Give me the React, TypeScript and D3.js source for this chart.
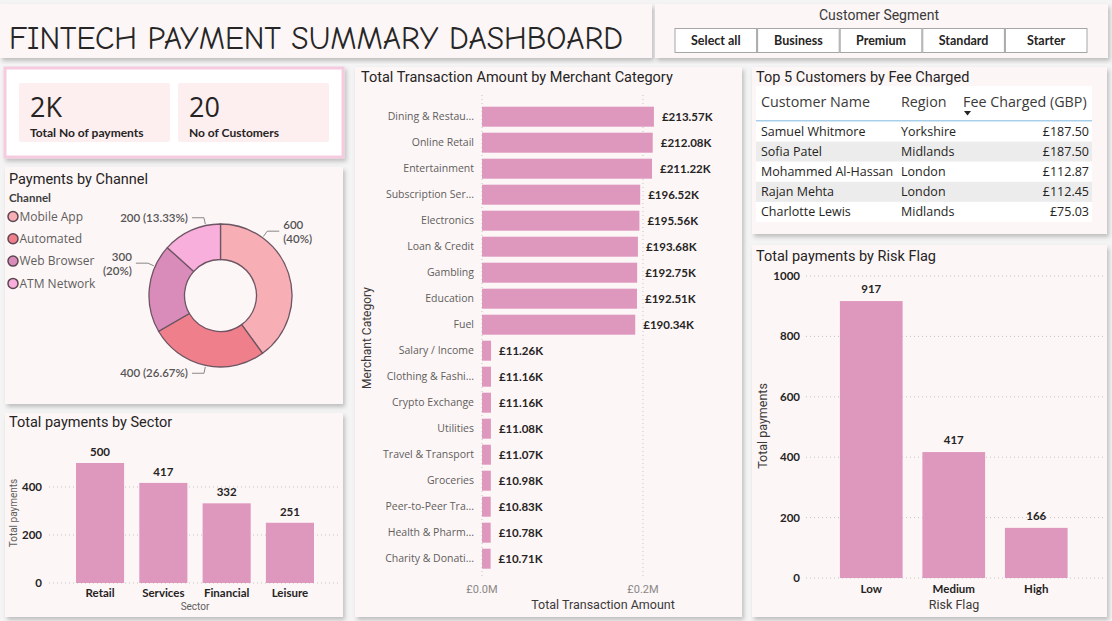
import React from 'react';
import * as d3 from 'd3';

const W = 1112;
const H = 621;

// ---- data ----
const segments = ['Select all', 'Business', 'Premium', 'Standard', 'Starter'];

const kpiValues = ['2K', '20'];
const kpiLabels = ['Total No of payments', 'No of Customers'];

const channels = ['Mobile App', 'Automated', 'Web Browser', 'ATM Network'];
const channelPayments = [600, 400, 300, 200];
const channelColors = ['#f7aeb4', '#ef7f8a', '#d98bba', '#f8afdc'];
// where along each slice the callout sits (fraction of the slice sweep)
const channelLabelFrac = [0.25, 0.5, 0.75, 0.75];

const sectors = ['Retail', 'Services', 'Financial', 'Leisure'];
const sectorPayments = [500, 417, 332, 251];
const sectorTicks = [0, 200, 400];

const merchantCategories = [
  'Dining & Restau...', 'Online Retail', 'Entertainment', 'Subscription Ser...', 'Electronics',
  'Loan & Credit', 'Gambling', 'Education', 'Fuel', 'Salary / Income', 'Clothing & Fashi...',
  'Crypto Exchange', 'Utilities', 'Travel & Transport', 'Groceries', 'Peer-to-Peer Tra...',
  'Health & Pharm...', 'Charity & Donati...',
];
const merchantAmounts = [
  213570, 212080, 211220, 196520, 195560, 193680, 192750, 192510, 190340,
  11260, 11160, 11160, 11080, 11070, 10980, 10830, 10780, 10710,
];
const merchantTicks = [0, 200000];

const tableColumns = ['Customer Name', 'Region', 'Fee Charged (GBP)'];
const customerNames = ['Samuel Whitmore', 'Sofia Patel', 'Mohammed Al-Hassan', 'Rajan Mehta', 'Charlotte Lewis'];
const customerRegions = ['Yorkshire', 'Midlands', 'London', 'London', 'Midlands'];
const customerFees = [187.5, 187.5, 112.87, 112.45, 75.03];

const riskFlags = ['Low', 'Medium', 'High'];
const riskPayments = [917, 417, 166];
const riskTicks = [0, 200, 400, 600, 800, 1000];

// ---- styling ----
const BAR = '#df98bd';
const PANEL = '#fdf6f7';
const INK = '#252423';
const GREY = '#605e5c';
const TITLE_FONT = "Roboto, 'DejaVu Sans', sans-serif";
const UI_FONT = "'Segoe UI', 'Open Sans', sans-serif";
const LABEL_FONT = "'Segoe UI', Lato, sans-serif";
const GRID = { stroke: '#c4c4c4', strokeWidth: 1, strokeDasharray: '1,3' };

const fmtK = (v: number) => `£${d3.format('.2f')(v / 1000)}K`;
const fmtM = (v: number) => `£${d3.format('.1f')(v / 1e6)}M`;
const fmtFee = (v: number) => `£${d3.format('.2f')(v)}`;

function Panel({ x, y, w, h, children }: any) {
  return (
    <g>
      <rect x={x} y={y} width={w} height={h} fill={PANEL} filter="url(#shadow)" />
      {children}
    </g>
  );
}

function PanelTitle({ x, y, text }: any) {
  return (
    <text x={x} y={y} dy="0.35em" fontFamily={TITLE_FONT} fontSize={14.5} fill={INK}>
      {text}
    </text>
  );
}

function Header() {
  const bx = d3.scaleBand().domain(segments).range([675, 1087]).paddingInner(0.012);
  return (
    <g>
      <Panel x={0} y={4} w={652} h={54} />
      <text x={9} y={49} fontFamily="'Comic Sans MS', 'Comic Neue', 'DejaVu Sans', sans-serif" fontSize={32}
        fill="#262626" textLength={614} lengthAdjust="spacingAndGlyphs">
        FINTECH PAYMENT SUMMARY DASHBOARD
      </text>
      <Panel x={655} y={4} w={453} h={54} />
      <text x={879} y={15} dy="0.35em" textAnchor="middle" fontFamily={TITLE_FONT} fontSize={14} fill="#3b3a39">
        Customer Segment
      </text>
      {segments.map(s => (
        <g key={s}>
          <rect x={bx(s)} y={28.5} width={bx.bandwidth()} height={24} fill="#fff" stroke="#a6a6a6" />
          <text x={(bx(s) as number) + bx.bandwidth() / 2} y={41} dy="0.35em" textAnchor="middle"
            fontFamily={LABEL_FONT} fontWeight={700} fontSize={12.5} fill={INK}>{s}</text>
        </g>
      ))}
    </g>
  );
}

function Kpis() {
  const cx = d3.scaleBand().domain(kpiLabels).range([19, 329]).paddingInner(0.05);
  return (
    <g>
      <rect x={5} y={68} width={338} height={89} fill="#fff" stroke="#f6cadf" strokeWidth={3} filter="url(#shadow)" />
      {kpiLabels.map((l, i) => {
        const x = cx(l) as number;
        return (
          <g key={l}>
            <rect x={x} y={83} width={cx.bandwidth()} height={59} fill="#fdeef0" rx={2} />
            <text x={x + 11} y={117} fontFamily={UI_FONT} fontSize={27} fill={INK}>{kpiValues[i]}</text>
            <text x={x + 11} y={137} fontFamily={LABEL_FONT} fontWeight={700} fontSize={12} fill={INK}>{l}</text>
          </g>
        );
      })}
    </g>
  );
}

function ChannelDonut() {
  const cx = 220.5, cy = 295.5, R = 71.5, r = 36;
  const pie = d3.pie<number>().sort(null).value(d => d)(channelPayments);
  const arc = d3.arc<d3.PieArcDatum<number>>().innerRadius(r).outerRadius(R);
  const total = d3.sum(channelPayments);
  const pct = d3.format('.2~f');
  const polar = (rad: number, a: number) => [cx + rad * Math.sin(a), cy - rad * Math.cos(a)];
  return (
    <g>
      <Panel x={5} y={167} w={338} h={237} />
      <PanelTitle x={9} y={179} text="Payments by Channel" />
      <text x={9} y={198} dy="0.35em" fontFamily={LABEL_FONT} fontWeight={700} fontSize={11.5} fill="#404040">Channel</text>
      {channels.map((c, i) => {
        const y = 216.5 + i * 22.3;
        return (
          <g key={c}>
            <circle cx={13} cy={y} r={5} fill={channelColors[i]} stroke="#5c4652" strokeWidth={1.5} />
            <text x={19.5} y={y} dy="0.35em" fontFamily={UI_FONT} fontSize={12} fill={GREY}>{c}</text>
          </g>
        );
      })}
      <g transform={`translate(${cx},${cy})`}>
        {pie.map((p, i) => (
          <path key={channels[i]} d={arc(p) as string} fill={channelColors[i]} stroke="#6e5563" strokeWidth={1.3} />
        ))}
      </g>
      {pie.map((p, i) => {
        const a = p.startAngle + (p.endAngle - p.startAngle) * channelLabelFrac[i];
        const side = Math.sin(a) >= 0 ? 1 : -1;
        const [x0, y0] = polar(R + 1.5, a);
        const [x1, y1] = polar(R + 8, a);
        const x2 = x1 + side * 12;
        const value = channelPayments[i];
        const share = `(${pct((value / total) * 100)}%)`;
        const wrap = Math.abs(Math.sin(a)) > 0.5;
        const tx = x2 + side * 4;
        const anchor = side > 0 ? 'start' : 'end';
        return (
          <g key={`lbl-${channels[i]}`}>
            <polyline points={`${x0},${y0} ${x1},${y1} ${x2},${y1}`} fill="none" stroke="#8a8886" strokeWidth={1} />
            {wrap ? (
              <text textAnchor={anchor} fontFamily={LABEL_FONT} fontWeight={600} fontSize={11.5} fill="#555">
                <tspan x={tx} y={y1 - 6.5} dy="0.35em">{value}</tspan>
                <tspan x={tx} y={y1 + 7.5} dy="0.35em">{share}</tspan>
              </text>
            ) : (
              <text x={tx} y={y1} dy="0.35em" textAnchor={anchor} fontFamily={LABEL_FONT} fontWeight={600}
                fontSize={11.5} fill="#555">{`${value} ${share}`}</text>
            )}
          </g>
        );
      })}
    </g>
  );
}

function SectorChart() {
  const x = d3.scaleBand().domain(sectors).range([68.4, 321.6]).paddingInner(0.24).paddingOuter(0.12);
  const y = d3.scaleLinear().domain([0, 500]).range([583, 463]);
  return (
    <g>
      <Panel x={5} y={413} w={338} h={204} />
      <PanelTitle x={9} y={422} text="Total payments by Sector" />
      {sectorTicks.map(t => (
        <g key={t}>
          <line x1={49} x2={341} y1={y(t)} y2={y(t)} {...GRID} />
          <text x={42} y={y(t)} dy="0.35em" textAnchor="end" fontFamily={LABEL_FONT} fontWeight={700}
            fontSize={11.5} fill={INK}>{t}</text>
        </g>
      ))}
      {sectors.map((s, i) => {
        const bx = x(s) as number;
        const v = sectorPayments[i];
        return (
          <g key={s}>
            <rect x={bx} y={y(v)} width={x.bandwidth()} height={y(0) - y(v)} fill={BAR} />
            <text x={bx + x.bandwidth() / 2} y={y(v) - 11} dy="0.35em" textAnchor="middle"
              fontFamily={LABEL_FONT} fontWeight={700} fontSize={11.5} fill={INK}>{v}</text>
            <text x={bx + x.bandwidth() / 2} y={593} dy="0.35em" textAnchor="middle"
              fontFamily={LABEL_FONT} fontWeight={700} fontSize={11.5} fill={INK}>{s}</text>
          </g>
        );
      })}
      <text x={(x.range()[0] + x.range()[1]) / 2} y={606.5} dy="0.35em" textAnchor="middle"
        fontFamily={TITLE_FONT} fontSize={10} fill={GREY}>Sector</text>
      <text transform={`translate(13,${y(250) - 10}) rotate(-90)`} dy="0.35em" textAnchor="middle"
        fontFamily={TITLE_FONT} fontSize={10} fill={GREY}>Total payments</text>
    </g>
  );
}

function MerchantChart() {
  const x = d3.scaleLinear().domain([0, 200000]).range([482, 643]);
  const y = d3.scaleBand().domain(merchantCategories).range([103.7, 571.7]).paddingInner(0.23).paddingOuter(0.115);
  return (
    <g>
      <Panel x={355} y={67} w={387} h={550} />
      <PanelTitle x={361} y={77} text="Total Transaction Amount by Merchant Category" />
      {merchantTicks.map(t => (
        <g key={t}>
          <line x1={x(t)} x2={x(t)} y1={95} y2={577} {...GRID} />
          <text x={x(t)} y={589.5} dy="0.35em" textAnchor="middle" fontFamily={TITLE_FONT} fontSize={11}
            fill="#8a8886">{fmtM(t)}</text>
        </g>
      ))}
      {merchantCategories.map((c, i) => {
        const by = y(c) as number;
        const v = merchantAmounts[i];
        const mid = by + y.bandwidth() / 2;
        return (
          <g key={c}>
            <rect x={x(0)} y={by} width={x(v) - x(0)} height={y.bandwidth()} fill={BAR} />
            <text x={474} y={mid} dy="0.35em" textAnchor="end" fontFamily={UI_FONT} fontSize={10.5}
              fill={GREY}>{c}</text>
            <text x={x(v) + 8} y={mid} dy="0.35em" fontFamily={LABEL_FONT} fontWeight={700} fontSize={11.5}
              fill={INK}>{fmtK(v)}</text>
          </g>
        );
      })}
      <text x={603} y={605} dy="0.35em" textAnchor="middle" fontFamily={TITLE_FONT} fontSize={12.5}
        fill="#3b3a39">Total Transaction Amount</text>
      <text transform="translate(367,338) rotate(-90)" dy="0.35em" textAnchor="middle" fontFamily={TITLE_FONT}
        fontSize={12} fill="#3b3a39">Merchant Category</text>
    </g>
  );
}

function CustomerTable() {
  const rowY = d3.scaleBand().domain(customerNames).range([121.5, 222]);
  const colX = [761, 901, 1089];
  return (
    <g>
      <Panel x={752} y={67} w={355} h={167} />
      <PanelTitle x={756} y={77} text="Top 5 Customers by Fee Charged" />
      <rect x={756} y={86} width={336} height={136} fill="#fff" />
      {tableColumns.map((c, i) => (
        <text key={c} x={i === 2 ? 963 : colX[i]} y={102} dy="0.35em" fontFamily={UI_FONT} fontSize={14.3}
          fill="#3b3a39">{c}</text>
      ))}
      <path d="M964,111 L971,111 L967.5,115.5 Z" fill="#252423" />
      <line x1={756} x2={1092} y1={121} y2={121} stroke="#a7cfe9" strokeWidth={2} />
      {customerNames.map((n, i) => {
        const ry = rowY(n) as number;
        const mid = ry + rowY.bandwidth() / 2;
        return (
          <g key={n}>
            <rect x={756} y={ry} width={336} height={rowY.bandwidth()} fill={i % 2 ? '#ececec' : '#fff'} />
            <text x={colX[0]} y={mid} dy="0.35em" fontFamily={UI_FONT} fontSize={12.5} fill={INK}>{n}</text>
            <text x={colX[1]} y={mid} dy="0.35em" fontFamily={UI_FONT} fontSize={12.5} fill={INK}>{customerRegions[i]}</text>
            <text x={colX[2]} y={mid} dy="0.35em" textAnchor="end" fontFamily={UI_FONT} fontSize={12.5}
              fill={INK}>{fmtFee(customerFees[i])}</text>
          </g>
        );
      })}
    </g>
  );
}

function RiskChart() {
  const x = d3.scaleBand().domain(riskFlags).range([830, 1077.5]).paddingInner(0.24).paddingOuter(0.12);
  const y = d3.scaleLinear().domain([0, 1000]).range([578, 276]);
  return (
    <g>
      <Panel x={752} y={245} w={355} h={372} />
      <PanelTitle x={756} y={256} text="Total payments by Risk Flag" />
      {riskTicks.map(t => (
        <g key={t}>
          <line x1={806} x2={1103} y1={y(t)} y2={y(t)} {...GRID} />
          <text x={800} y={y(t)} dy="0.35em" textAnchor="end" fontFamily={LABEL_FONT} fontWeight={700}
            fontSize={11.5} fill={INK}>{t}</text>
        </g>
      ))}
      {riskFlags.map((f, i) => {
        const bx = x(f) as number;
        const v = riskPayments[i];
        return (
          <g key={f}>
            <rect x={bx} y={y(v)} width={x.bandwidth()} height={y(0) - y(v)} fill={BAR} />
            <text x={bx + x.bandwidth() / 2} y={y(v) - 12} dy="0.35em" textAnchor="middle"
              fontFamily={LABEL_FONT} fontWeight={700} fontSize={11.5} fill={INK}>{v}</text>
            <text x={bx + x.bandwidth() / 2} y={588.5} dy="0.35em" textAnchor="middle"
              fontFamily={LABEL_FONT} fontWeight={700} fontSize={11.5} fill={INK}>{f}</text>
          </g>
        );
      })}
      <text x={954} y={604.5} dy="0.35em" textAnchor="middle" fontFamily={TITLE_FONT} fontSize={12.5}
        fill="#3b3a39">Risk Flag</text>
      <text transform={`translate(763,${y(500) - 1}) rotate(-90)`} dy="0.35em" textAnchor="middle"
        fontFamily={TITLE_FONT} fontSize={12.5} fill="#3b3a39">Total payments</text>
    </g>
  );
}

export default function App() {
  return (
    <svg width={W} height={H} style={{ position: 'fixed', left: 0, top: 0, display: 'block' }}>
      <defs>
        <filter id="shadow" x="-5%" y="-5%" width="115%" height="115%">
          <feDropShadow dx={2} dy={3} stdDeviation={2.2} floodColor="#000" floodOpacity={0.22} />
        </filter>
      </defs>
      <rect width={W} height={H} fill="#f4f4f4" />
      <Header />
      <Kpis />
      <ChannelDonut />
      <SectorChart />
      <MerchantChart />
      <CustomerTable />
      <RiskChart />
    </svg>
  );
}
